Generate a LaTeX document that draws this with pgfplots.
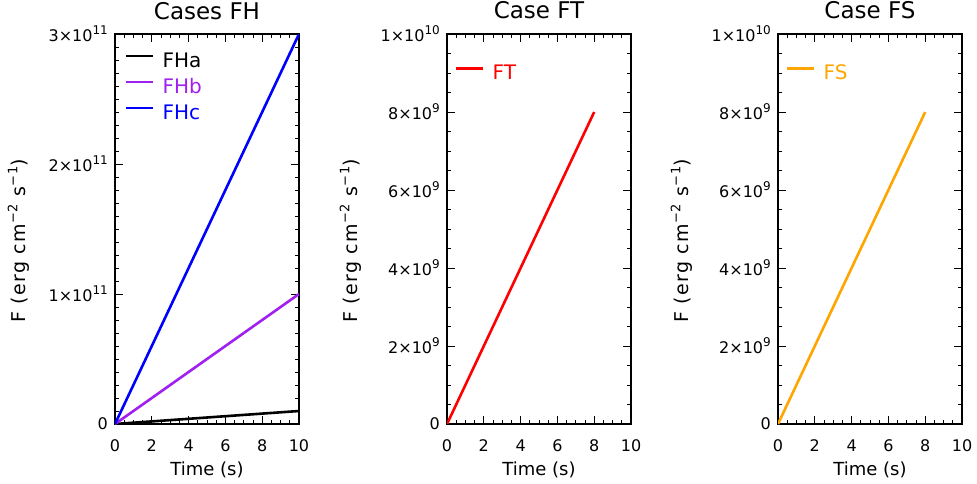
\documentclass[border=0pt]{standalone}
\usepackage{fontspec}
\setmainfont{DejaVu Sans}
\usepackage{pgfplots}
\pgfplotsset{compat=1.18}

\definecolor{idlpurple}{RGB}{160,32,240}
\definecolor{idlblue}{RGB}{0,0,255}
\definecolor{idlred}{RGB}{255,0,0}
\definecolor{idlorange}{RGB}{255,165,0}

\newcommand{\tickfont}{\fontsize{16}{18}\selectfont}
\newcommand{\supr}[1]{\raisebox{0.45em}{\fontsize{12}{13}\selectfont #1}}
\newcommand{\e}[2]{#1×10\supr{#2}}

\pgfplotsset{
  panel/.style={
    scale only axis, width=184pt, height=390pt,
    anchor=south west,
    axis line style={line width=1.6pt},
    every tick/.style={black, line width=0.9pt},
    major tick length=8pt, minor tick length=4pt,
    tick align=inside,
    xmin=0, xmax=10,
    xtick={0,2,4,6,8,10}, xticklabels={0,2,4,6,8,10},
    minor x tick num=3,
    scaled y ticks=false,
    ymin=0,
    ticklabel style={font=\tickfont},
    xticklabel style={anchor=base, yshift=-27pt},
    yticklabel style={anchor=east, inner sep=0pt, xshift=-7pt},
    title style={font=\fontsize{23}{26}\selectfont, at={(axis description cs:0.5,1)}, anchor=base, yshift=9pt},
    xlabel={Time (s)},
    xlabel style={font=\fontsize{18}{20}\selectfont, at={(axis description cs:0.5,0)}, anchor=base, yshift=-51pt},
    ylabel={\addfontfeature{LetterSpace=7}F (erg cm\raisebox{0.45em}{\fontsize{13}{14}\selectfont −2} s\raisebox{0.45em}{\fontsize{13}{14}\selectfont −1})},
    ylabel style={font=\fontsize{19}{21}\selectfont, at={(axis description cs:-0.484,0.47)}, anchor=base},
    every axis plot/.append style={line width=2.6pt, no markers},
    legend image code/.code={\draw[#1] (0pt,6pt) -- (27pt,6pt);},
    legend style={draw=none, fill=none, inner sep=0pt, outer sep=0pt,
      font=\fontsize{20}{22}\selectfont,
      nodes={inner sep=0pt, text height=14pt, text depth=4pt},
      column sep=8pt, row sep=8pt, legend cell align=left},
  }
}

\begin{document}
\begin{tikzpicture}
\path[use as bounding box] (0,0) rectangle (977pt,483pt);

% Heating cases
\begin{axis}[panel, at={(115pt,59pt)},
  title={Cases FH},
  ymax=3e11, ytick={0,1e11,2e11,3e11},
  yticklabels={0,\e{1}{11},\e{2}{11},\e{3}{11}},
  minor y tick num=9,
  legend style={at={(axis description cs:0.054,0.951)}, anchor=north west}]
\addplot[black] coordinates {(0,0) (10,1e10)};
\addlegendentry{\textcolor{black}{FHa}}
\addplot[idlpurple] coordinates {(0,0) (10,1e11)};
\addlegendentry{\textcolor{idlpurple}{FHb}}
\addplot[idlblue] coordinates {(0,0) (10,3e11)};
\addlegendentry{\textcolor{idlblue}{FHc}}
\end{axis}

% Case FT
\begin{axis}[panel, at={(447pt,59pt)},
  title={Case FT},
  ymax=1e10, ytick={0,2e9,4e9,6e9,8e9,1e10},
  yticklabels={0,\e{2}{9},\e{4}{9},\e{6}{9},\e{8}{9},\e{1}{10}},
  minor y tick num=3,
  legend style={at={(axis description cs:0.044,0.92)}, anchor=north west}]
\addplot[idlred] coordinates {(0,0) (8,8e9)};
\addlegendentry{\textcolor{idlred}{FT}}
\end{axis}

% Case FS
\begin{axis}[panel, at={(778pt,59pt)},
  title={Case FS},
  ymax=1e10, ytick={0,2e9,4e9,6e9,8e9,1e10},
  yticklabels={0,\e{2}{9},\e{4}{9},\e{6}{9},\e{8}{9},\e{1}{10}},
  minor y tick num=3,
  legend style={at={(axis description cs:0.044,0.92)}, anchor=north west}]
\addplot[idlorange] coordinates {(0,0) (8,8e9)};
\addlegendentry{\textcolor{idlorange}{FS}}
\end{axis}
\end{tikzpicture}
\end{document}
